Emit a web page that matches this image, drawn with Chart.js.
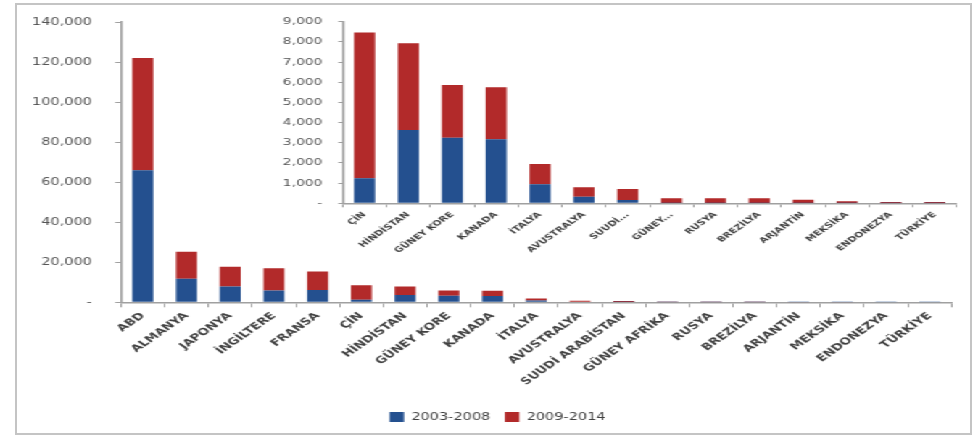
<!DOCTYPE html>
<html><head><meta charset="utf-8">
<script src="https://cdn.jsdelivr.net/npm/chart.js@4"></script>
<style>
html,body{margin:0;padding:0;background:#fff;width:975px;height:437px;overflow:hidden;}
#frame{position:absolute;left:15px;top:3px;width:953px;height:428px;border:2px solid #c4c4c4;}
#wrap{position:absolute;left:0;top:0;width:672px;height:437px;transform:scaleX(1.45);transform-origin:0 0;}
#main{position:absolute;left:0;top:0;width:672px;height:437px;}
#inset{position:absolute;left:150px;top:0;width:522px;height:265px;}
</style></head>
<body>
<div id="frame"></div>
<div id="wrap">
<canvas id="main" width="672" height="437"></canvas>
<canvas id="inset" width="522" height="265"></canvas>
</div>
<script>
const categories = ['ABD','ALMANYA','JAPONYA','İNGİLTERE','FRANSA','ÇİN','HİNDİSTAN','GÜNEY KORE','KANADA','İTALYA','AVUSTRALYA','SUUDİ ARABİSTAN','GÜNEY AFRİKA','RUSYA','BREZİLYA','ARJANTİN','MEKSİKA','ENDONEZYA','TÜRKİYE'];
const insetCategories = ['ÇİN','HİNDİSTAN','GÜNEY KORE','KANADA','İTALYA','AVUSTRALYA','SUUDİ...','GÜNEY...','RUSYA','BREZİLYA','ARJANTİN','MEKSİKA','ENDONEZYA','TÜRKİYE'];
const series2003_2008 = [66000,11700,7900,5900,6200,1240,3630,3250,3170,940,330,160,20,20,20,10,10,5,5];
const series2009_2014 = [56000,13500,9900,11100,9200,7220,4300,2610,2580,1010,460,550,230,230,230,170,90,65,65];
const seriesNames = ['2003-2008','2009-2014'];
const mainTicks = {min:0,max:140000,step:20000};
const insetTicks = {min:0,max:9000,step:1000};
const insetStart = 5;

const BLUE = '#24508F', RED = '#B22A2A', AXIS = '#a0a0a0', TXT = '#555555';
const fmt = v => v === 0 ? '-' : Number(v).toLocaleString('en-US');

new Chart(document.getElementById('main'), {
  type:'bar',
  data:{labels:categories, datasets:[
    {label:seriesNames[0], data:series2003_2008, backgroundColor:BLUE, barPercentage:0.48, categoryPercentage:1},
    {label:seriesNames[1], data:series2009_2014, backgroundColor:RED, barPercentage:0.48, categoryPercentage:1}
  ]},
  options:{
    responsive:false, animation:false,
    layout:{padding:{left:0,right:15.7,top:16,bottom:5}},
    plugins:{
      tooltip:{enabled:false},
      legend:{position:'bottom', labels:{boxWidth:10, boxHeight:10, padding:10, color:'#404040', font:{family:'DejaVu Sans', size:10}}}
    },
    scales:{
      x:{stacked:true,
        grid:{offset:true, drawOnChartArea:false, tickLength:5, tickColor:AXIS},
        border:{color:AXIS, width:1.5},
        ticks:{minRotation:45, maxRotation:45, autoSkip:false, padding:3, color:'#404040', font:{family:'DejaVu Sans', size:9.5, weight:'bold'}},
        afterFit:s=>{s.height=99.7;}
      },
      y:{stacked:true, min:mainTicks.min, max:mainTicks.max,
        grid:{drawOnChartArea:false, tickLength:4, tickColor:AXIS},
        border:{color:AXIS, width:1.5},
        ticks:{stepSize:mainTicks.step, padding:16, color:TXT, font:{family:'DejaVu Sans', size:10}, callback:fmt},
        afterFit:s=>{s.width=83.4;}
      }
    }
  },
  plugins:[{id:'shiftLegend', afterLayout(chart){ const l = chart.legend; if(l){ l.left += 15; l.right += 15; } }}]
});

new Chart(document.getElementById('inset'), {
  type:'bar',
  data:{labels:insetCategories, datasets:[
    {label:seriesNames[0], data:series2003_2008.slice(insetStart), backgroundColor:BLUE, barPercentage:0.48, categoryPercentage:1},
    {label:seriesNames[1], data:series2009_2014.slice(insetStart), backgroundColor:RED, barPercentage:0.48, categoryPercentage:1}
  ]},
  options:{
    responsive:false, animation:false,
    layout:{padding:{left:0,right:12.2,top:21.7,bottom:0}},
    plugins:{tooltip:{enabled:false}, legend:{display:false}},
    scales:{
      x:{stacked:true,
        grid:{offset:true, drawOnChartArea:false, tickLength:4, tickColor:AXIS},
        border:{color:AXIS, width:1.5},
        ticks:{minRotation:45, maxRotation:45, autoSkip:false, padding:3, color:'#404040', font:{family:'DejaVu Sans', size:7.5, weight:'bold'}},
        afterFit:s=>{s.height=61.7;}
      },
      y:{stacked:true, min:insetTicks.min, max:insetTicks.max,
        grid:{drawOnChartArea:false, tickLength:3, tickColor:AXIS},
        border:{color:AXIS, width:1.5},
        ticks:{stepSize:insetTicks.step, padding:11, color:TXT, font:{family:'DejaVu Sans', size:9.5}, callback:fmt},
        afterFit:s=>{s.width=86.3;}
      }
    }
  }
});
</script>
</body></html>
